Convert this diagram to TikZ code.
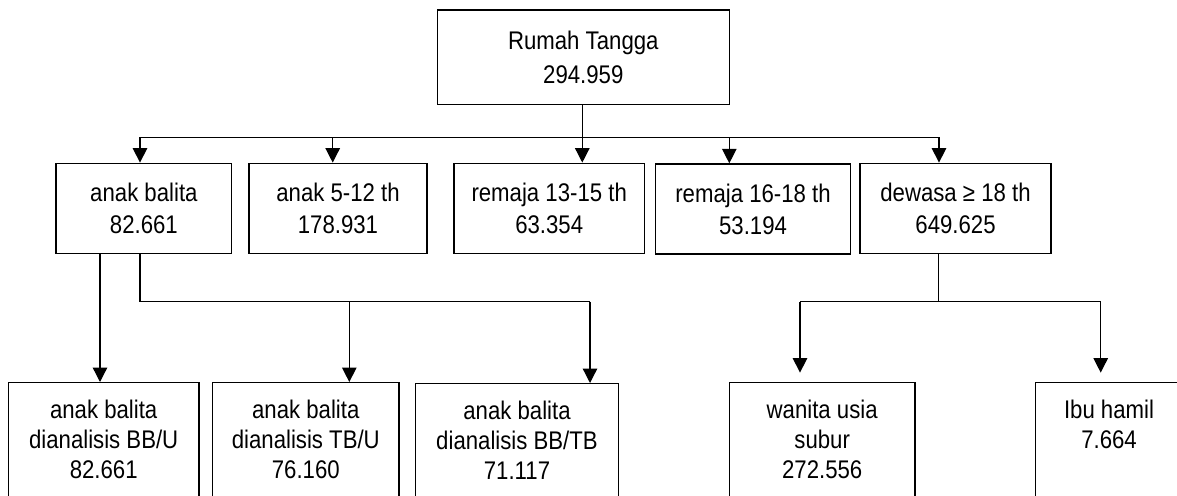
\documentclass[tikz,border=0pt]{standalone}
\usepackage{fontspec}
\setmainfont[FakeStretch=0.87]{Liberation Sans}
\usetikzlibrary{arrows.meta}
\begin{document}
\begin{tikzpicture}[x=1pt,y=-1pt,
  box/.style={draw, line width=1.4pt, align=center, inner sep=0pt, font=\fontsize{25.5}{32}\selectfont},
  lowbox/.style={box, font=\fontsize{25.5}{30}\selectfont, minimum height=114pt},
  conn/.style={line width=1.3pt},
  arr/.style={conn, -{Triangle[length=14.5pt,width=14.5pt]}}]
\useasboundingbox (0,0) rectangle (1177,495);
\clip (0,0) rectangle (1177,495);
\fill[white] (0,0) rectangle (1177,495);
% top
\node[box, minimum width=292pt, minimum height=94.7pt, font=\fontsize{25.5}{34}\selectfont] (top) at (583.3,57.3) {Rumah Tangga\\294.959};
% second row
\node[box, minimum width=175.7pt, minimum height=90pt] (n1) at (143.9,208.3) {anak balita\\82.661};
\node[box, minimum width=178pt, minimum height=90pt] (n2) at (338,208.3) {anak 5-12 th\\178.931};
\node[box, minimum width=190.3pt, minimum height=90pt] (n3) at (549.2,208.3) {remaja 13-15 th\\63.354};
\node[box, minimum width=195.4pt, minimum height=90pt] (n4) at (753,209) {remaja 16-18 th\\53.194};
\node[box, minimum width=191pt, minimum height=90pt] (n5) at (955.5,208.3) {dewasa ≥ 18 th\\649.625};
% third row
\node[lowbox, minimum width=190.7pt] (m1) at (103.7,439.7) {anak balita\\dianalisis BB/U\\82.661};
\node[lowbox, minimum width=186.3pt] (m2) at (305.8,439.7) {anak balita\\dianalisis TB/U\\76.160};
\node[lowbox, minimum width=203.4pt] (m3) at (517,440.7) {anak balita\\dianalisis BB/TB\\71.117};
\node[lowbox, minimum width=185.7pt] (m4) at (822.2,439.7) {wanita usia\\subur\\272.556};
\node[lowbox, minimum width=146.6pt] (m5) at (1109,439.7) {Ibu hamil\\7.664\\\phantom{0}};
% top bus
\coordinate (t) at (582.3,137.3);
\coordinate (bL) at (140,137.3);
\coordinate (b2) at (332.7,137.3);
\coordinate (b4) at (729.3,137.3);
\coordinate (bR) at (939,137.3);
\draw[arr] (top.south -| t) -- (n3.north -| t);
\draw[conn] (bL) -- (bR);
\draw[arr] (bL) -- (bL |- n1.north);
\draw[arr] (b2) -- (b2 |- n2.north);
\draw[arr] (b4) -- (b4 |- n4.north);
\draw[arr] (bR) -- (bR |- n5.north);
% balita branch
\coordinate (a1) at (100,300);
\coordinate (c0) at (140,301.7);
\coordinate (c2) at (349.3,301.7);
\coordinate (c3) at (590,301.7);
\draw[arr] (n1.south -| a1) -- (m1.north -| a1);
\draw[conn] (n1.south -| c0) -- (c0) -- (c3);
\draw[arr] (c2) -- (c2 |- m2.north);
\draw[arr] (c3) -- (c3 |- m3.north);
% dewasa branch
\coordinate (d0) at (938.3,301.7);
\coordinate (dL) at (800,301.7);
\coordinate (dR) at (1100.7,301.7);
\draw[conn] (n5.south -| d0) -- (d0);
\draw[conn] (dL) -- (dR);
\draw[arr, shorten >=9.4pt] (dL) -- (dL |- m4.north);
\draw[arr, shorten >=9.4pt] (dR) -- (dR |- m5.north);
\end{tikzpicture}
\end{document}
